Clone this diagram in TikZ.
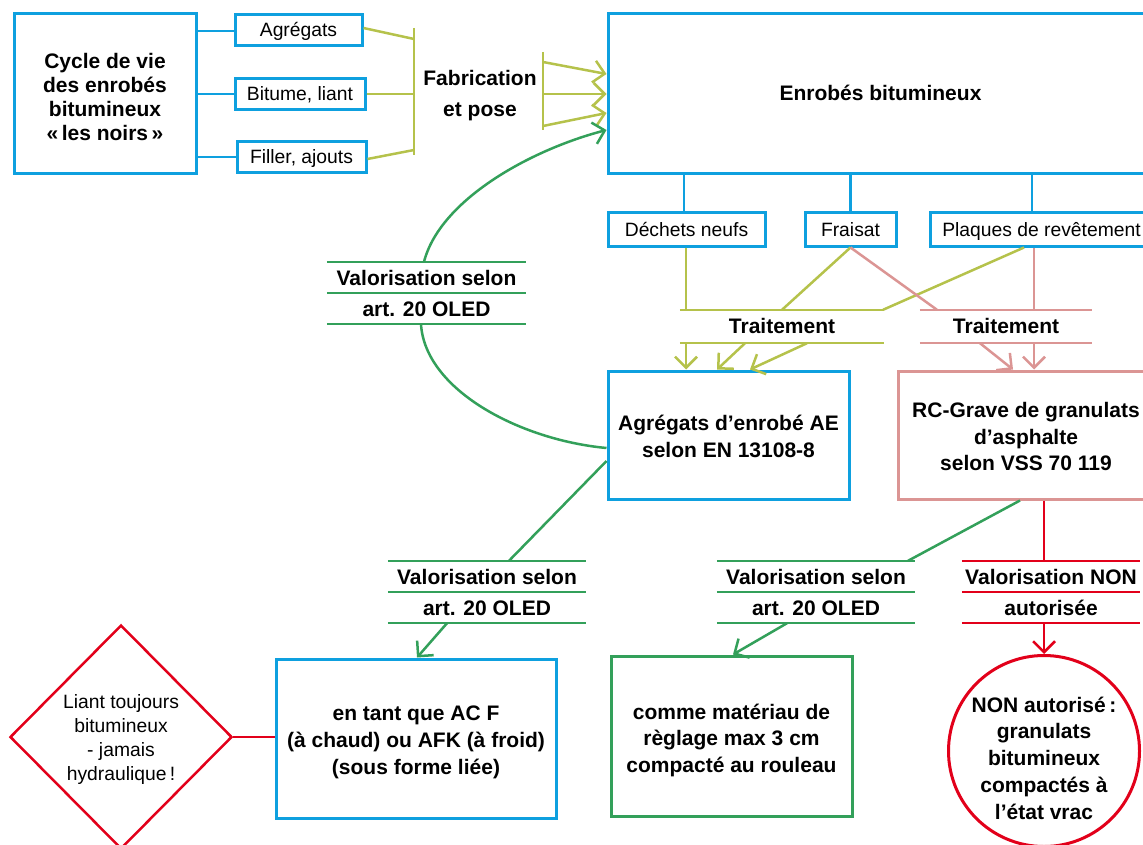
\documentclass[tikz,border=0pt]{standalone}
\usepackage{fontspec}
\setmainfont{Liberation Sans}
\usetikzlibrary{arrows.meta,shapes.geometric,calc}
\definecolor{cblue}{HTML}{0EA0DF}
\definecolor{colive}{HTML}{B5C24B}
\definecolor{cgreen}{HTML}{33A05A}
\definecolor{cpink}{HTML}{DB9594}
\definecolor{cred}{HTML}{E2001A}
\begin{document}
\begin{tikzpicture}[x=1pt,y=-1pt,
  bx/.style={draw, line width=3pt, inner sep=0pt, align=center},
  bb/.style={font=\fontsize{21}{26.5}\selectfont\bfseries, align=center, inner sep=0pt},
  rr/.style={font=\fontsize{19.3}{24}\selectfont, align=center, inner sep=0pt},
  one/.style={text height=14pt, text depth=0pt},
  ln/.style={line width=2.5pt},
  thin/.style={line width=2pt},
  arr/.style={ln, -{Straight Barb[length=11pt,width=22pt]}},
  lab/.style={inner sep=0pt, align=center, font=\fontsize{21}{31}\selectfont\bfseries},
]
\useasboundingbox (0,0) rectangle (1143,845);
\clip (0,0) rectangle (1143,845);

% top left
\node[bx,draw=cblue,minimum width=182pt,minimum height=160pt,
  label={[bb,font=\fontsize{21}{24}\selectfont\bfseries,yshift=-2.5pt]center:{Cycle de vie\\des enrobés\\bitumineux\\«\,les noirs\,»}}] (cyc) at (105,94) {};
\node[bx,draw=cblue,rr,one,minimum width=127pt,minimum height=31pt] (agg) at (298.5,30) {Agrégats};
\node[bx,draw=cblue,rr,one,minimum width=130pt,minimum height=31pt] (bit) at (300,94) {Bitume, liant};
\node[bx,draw=cblue,rr,one,minimum width=129pt,minimum height=31pt] (fil) at (301.5,157) {Filler, ajouts};
\draw[ln,cblue] (cyc.east |- 0,31) -- (agg.west |- 0,31);
\draw[ln,cblue] (cyc.east |- bit.west) -- (bit.west);
\draw[ln,cblue] (cyc.east |- fil.west) -- (fil.west);

\coordinate (obt) at (414,28);
\coordinate (obb) at (414,155);
\draw[ln,colive] (obt) -- (obb);
\draw[ln,colive] (agg.east |- 0,28) -- (414,39);
\draw[ln,colive] (bit.east) -- (414,0 |- bit.east);
\draw[ln,colive] (fil.east |- 0,159) -- (414,150);

\node[bb,font=\fontsize{21}{31}\selectfont\bfseries] (fab) at (480,95.5) {Fabrication\\et pose};

\node[bx,draw=cblue,bb,one,minimum width=545pt,minimum height=160pt] (enr) at (880.5,94) {Enrobés bitumineux};
\coordinate (rbt) at (543,52);
\coordinate (rbb) at (543,130);
\draw[ln,colive] (rbt) -- (rbb);
\draw[arr,colive] (543,62) -- (enr.west |- 0,74);
\draw[arr,colive] (543,94) -- (enr.west |- 0,94);
\draw[arr,colive] (543,126) -- (enr.west |- 0,113);

% second row
\node[bx,draw=cblue,rr,one,minimum width=157pt,minimum height=33pt] (dech) at (686.5,229.5) {Déchets neufs};
\node[bx,draw=cblue,rr,one,minimum width=91pt,minimum height=33pt] (frai) at (850.5,229.5) {Fraisat};
\node[bx,draw=cblue,rr,one,minimum width=223pt,minimum height=33pt] (plaq) at (1041.5,229.5) {Plaques de revêtement};
\draw[ln,cblue] (684,0 |- enr.south) -- (684,0 |- dech.north);
\draw[ln,cblue] (frai.north |- enr.south) -- (frai.north);
\draw[ln,cblue] (1032,0 |- enr.south) -- (1032,0 |- plaq.north);

% Traitement
\node[lab,one,minimum width=204pt,minimum height=33pt] (t1) at (782,326.5) {Traitement};
\node[lab,one,minimum width=172pt,minimum height=33pt] (t2) at (1006,326.5) {Traitement};
\draw[thin,colive] (t1.north west) -- (t1.north east) (t1.south west) -- (t1.south east);
\draw[thin,cpink] (t2.north west) -- (t2.north east) (t2.south west) -- (t2.south east);

\draw[ln,colive] (686,0 |- dech.south) -- (686,0 |- t1.north);
\draw[ln,colive] (frai.south) -- (782,0 |- t1.north);
\draw[ln,colive] (1024,0 |- plaq.south) -- (883,0 |- t1.north);
\draw[ln,cpink] (frai.south) -- (937,0 |- t2.north);
\draw[ln,cpink] (1034,0 |- plaq.south) -- (1034,0 |- t2.north);

% third row
\node[bx,draw=cblue,minimum width=241pt,minimum height=128pt,
  label={[bb,yshift=-1.5pt]center:{Agrégats d’enrobé AE\\selon EN 13108-8}}] (ae) at (728.5,435) {};
\node[bx,draw=cpink,minimum width=256pt,minimum height=128pt,
  label={[bb,yshift=-1.5pt]center:{RC-Grave de granulats\\d’asphalte\\selon VSS 70 119}}] (rc) at (1026,435) {};

\draw[arr,colive] (686,0 |- t1.south) -- (686,0 |- ae.north);
\draw[arr,colive] (745,0 |- t1.south) -- (717,0 |- ae.north);
\draw[arr,colive] (807,0 |- t1.south) -- (750,0 |- ae.north);
\draw[arr,cpink] (980,0 |- t2.south) -- (1013,0 |- rc.north);
\draw[arr,cpink] (1034,0 |- t2.south) -- (1034,0 |- rc.north);

% Valorisation labels
\node[lab,minimum width=199pt,minimum height=62pt] (v1) at (426.5,293) {Valorisation selon\\art. 20 OLED};
\node[lab,minimum width=198pt,minimum height=62pt] (vA) at (487,592) {Valorisation selon\\art. 20 OLED};
\node[lab,minimum width=198pt,minimum height=62pt] (vB) at (816,592) {Valorisation selon\\art. 20 OLED};
\node[lab,minimum width=178pt,minimum height=62pt] (vC) at (1051,592) {Valorisation NON\\autorisée};
\foreach \n/\c in {v1/cgreen,vA/cgreen,vB/cgreen,vC/cred}{
  \draw[thin,\c] (\n.north west) -- (\n.north east) (\n.west) -- (\n.east) (\n.south west) -- (\n.south east);
}

\draw[arr,cgreen] (424,0 |- v1.north) .. controls (440,200) and (530,150) .. (enr.west |- 0,130);
\draw[ln,cgreen] (421,0 |- v1.south) .. controls (425,390) and (520,440) .. (ae.west |- 0,448);
\draw[ln,cgreen] (ae.west |- 0,461) -- (509,0 |- vA.north);
\draw[ln,cgreen] (1020,0 |- rc.south) -- (908,0 |- vB.north);
\draw[ln,cred] (1044,0 |- rc.south) -- (1044,0 |- vC.north);

% bottom row
\node[bx,draw=cblue,minimum width=280pt,minimum height=159pt,
  label={[bb,font=\fontsize{21}{27}\selectfont\bfseries,yshift=-4pt]center:{en tant que AC F\\(à chaud) ou AFK (à froid)\\(sous forme liée)}}] (acf) at (416,738.5) {};
\node[bx,draw=cgreen,minimum width=241pt,minimum height=160pt,
  label={[bb,yshift=-4pt]center:{comme matériau de\\règlage max 3 cm\\compacté au rouleau}}] (cmat) at (731.5,736) {};
\node[circle,draw=cred,line width=3pt,minimum size=191pt,inner sep=0pt] (circ) at (1044,751) {};
\node[bb,font=\fontsize{21}{26.75}\selectfont\bfseries,yshift=-7pt] (circt) at (circ.center) {NON autorisé\,:\\granulats\\bitumineux\\compactés à\\l’état vrac};
\node[diamond,draw=cred,line width=2.5pt,minimum width=222pt,minimum height=224pt,inner sep=0pt] (dia) at (121,737) {};
\node[rr,yshift=-3pt] (diat) at (dia.center) {Liant toujours\\bitumineux\\- jamais\\hydraulique\,!};

\draw[arr,cgreen] (447,0 |- vA.south) -- (417,0 |- acf.north);
\draw[arr,cgreen] (787,0 |- vB.south) -- (733,0 |- cmat.north);
\draw[arr,cred] (1044,0 |- vC.south) -- (circ.north);
\draw[ln,cred] (dia.east) -- (acf.west |- dia.east);
\end{tikzpicture}
\end{document}
